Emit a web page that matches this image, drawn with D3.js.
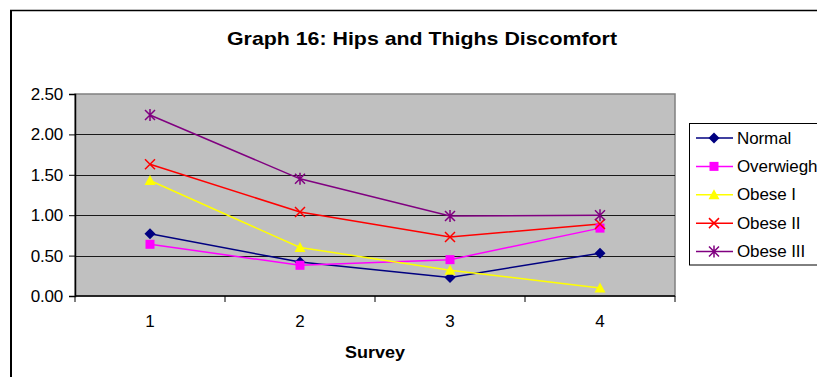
<!DOCTYPE html>
<html>
<head>
<meta charset="utf-8">
<script src="https://cdn.jsdelivr.net/npm/d3@7/dist/d3.min.js"></script>
<style>
  html, body { margin: 0; padding: 0; background: #fff; }
  svg { display: block; font-family: "Liberation Sans", Arial, sans-serif; }
</style>
</head>
<body>
<svg id="chart" width="817" height="377"></svg>
<script>
// Survey rounds and mean discomfort score per BMI group
const surveys = ["1", "2", "3", "4"];
const yTicks = [0, 0.5, 1, 1.5, 2, 2.5];
const seriesNames = ["Normal", "Overwiegh", "Obese I", "Obese II", "Obese III"];
const normal    = [0.77, 0.42, 0.23, 0.53];
const overweigh = [0.64, 0.38, 0.45, 0.84];
const obeseI    = [1.43, 0.60, 0.32, 0.10];
const obeseII   = [1.63, 1.04, 0.73, 0.89];
const obeseIII  = [2.24, 1.45, 0.99, 1.00];

const series = [
  { name: seriesNames[0], values: normal,    color: "#000080", marker: "diamond" },
  { name: seriesNames[1], values: overweigh, color: "#FF00FF", marker: "square" },
  { name: seriesNames[2], values: obeseI,    color: "#FFFF00", marker: "triangle" },
  { name: seriesNames[3], values: obeseII,   color: "#FF0000", marker: "cross" },
  { name: seriesNames[4], values: obeseIII,  color: "#800080", marker: "star" }
];

const svg = d3.select("#chart");
const plot = { left: 75, right: 675, top: 94, bottom: 296 };

const x = d3.scaleBand().domain(surveys).range([plot.left, plot.right]);
const y = d3.scaleLinear().domain([0, 2.5]).range([plot.bottom, plot.top]);
const cx = d => x(d) + x.bandwidth() / 2;

// outer frame (left and top edges)
svg.append("line").attr("x1", 11).attr("x2", 11).attr("y1", 10).attr("y2", 377)
  .attr("stroke", "#000").attr("stroke-width", 2);
svg.append("line").attr("x1", 10).attr("x2", 817).attr("y1", 10.5).attr("y2", 10.5)
  .attr("stroke", "#000").attr("stroke-width", 1.5);

// title
svg.append("text")
  .attr("x", 227).attr("y", 45)
  .attr("font-size", 19).attr("font-weight", "bold")
  .attr("textLength", 390).attr("lengthAdjust", "spacingAndGlyphs")
  .text("Graph 16: Hips and Thighs Discomfort");

// plot background
svg.append("rect")
  .attr("x", plot.left).attr("y", plot.top)
  .attr("width", plot.right - plot.left).attr("height", plot.bottom - plot.top)
  .attr("fill", "#C0C0C0").attr("stroke", "#808080").attr("stroke-width", 1.5);

// horizontal gridlines
svg.append("g").selectAll("line")
  .data(yTicks.filter(t => t > 0 && t < 2.5))
  .join("line")
  .attr("x1", plot.left).attr("x2", plot.right)
  .attr("y1", d => Math.round(y(d)) + 0.5).attr("y2", d => Math.round(y(d)) + 0.5)
  .attr("stroke", "#1a1a1a").attr("stroke-width", 1);

// y axis
const yAxis = d3.axisLeft(y).tickValues(yTicks).tickFormat(d3.format(".2f")).tickSize(6).tickPadding(6);
const gy = svg.append("g").attr("transform", `translate(${plot.left},0)`).call(yAxis);
gy.select(".domain").attr("stroke", "#000").attr("stroke-width", 1.5);
gy.selectAll(".tick line").attr("stroke", "#000");
gy.selectAll(".tick text").attr("font-size", 17).attr("letter-spacing", -0.2)
  .attr("fill", "#000").attr("font-family", "Liberation Sans, Arial, sans-serif");

// x axis with ticks between categories
const xEdge = d3.scaleLinear().domain([0, surveys.length]).range([plot.left, plot.right]);
const gx = svg.append("g").attr("transform", `translate(0,${plot.bottom})`);
gx.append("line").attr("x1", plot.left).attr("x2", plot.right).attr("y1", 0).attr("y2", 0)
  .attr("stroke", "#000").attr("stroke-width", 1.5);
gx.selectAll("line.tk").data(d3.range(surveys.length + 1)).join("line")
  .attr("class", "tk")
  .attr("x1", d => xEdge(d)).attr("x2", d => xEdge(d))
  .attr("y1", 0).attr("y2", 6).attr("stroke", "#000");
gx.selectAll("text").data(surveys).join("text")
  .attr("x", d => cx(d)).attr("y", 31)
  .attr("text-anchor", "middle").attr("font-size", 17)
  .text(d => d);

// x axis title
svg.append("text")
  .attr("x", 345).attr("y", 358)
  .attr("font-size", 17).attr("font-weight", "bold")
  .attr("textLength", 60).attr("lengthAdjust", "spacingAndGlyphs")
  .text("Survey");

// marker drawing
function drawMarker(g, type, color) {
  if (type === "diamond") {
    g.append("path").attr("d", "M0,-5.5L5.5,0L0,5.5L-5.5,0Z").attr("fill", color);
  } else if (type === "square") {
    g.append("rect").attr("x", -4.5).attr("y", -4.5).attr("width", 9).attr("height", 9).attr("fill", color);
  } else if (type === "triangle") {
    g.append("path").attr("d", "M0,-5.5L5.5,4.5L-5.5,4.5Z").attr("fill", color);
  } else if (type === "cross") {
    g.append("path").attr("d", "M-5,-5L5,5M-5,5L5,-5").attr("stroke", color).attr("stroke-width", 1.5);
  } else if (type === "star") {
    g.append("path").attr("d", "M-5,-5L5,5M-5,5L5,-5M0,-6L0,6").attr("stroke", color).attr("stroke-width", 1.5);
  }
}

const line = d3.line().x((d, i) => cx(surveys[i])).y(d => y(d));

series.forEach(s => {
  svg.append("path")
    .attr("d", line(s.values))
    .attr("fill", "none").attr("stroke", s.color).attr("stroke-width", 1.5);
});
series.forEach(s => {
  s.values.forEach((v, i) => {
    const g = svg.append("g").attr("transform", `translate(${cx(surveys[i])},${y(v)})`);
    drawMarker(g, s.marker, s.color);
  });
});

// legend
const legend = svg.append("g");
legend.append("rect")
  .attr("x", 689.5).attr("y", 123.5).attr("width", 140).attr("height", 141.5)
  .attr("fill", "#fff").attr("stroke", "#000").attr("stroke-width", 1);
const ly = d3.scalePoint().domain(seriesNames).range([138, 251.5]);
series.forEach(s => {
  const row = legend.append("g").attr("transform", `translate(0,${ly(s.name)})`);
  row.append("line").attr("x1", 696).attr("x2", 733).attr("y1", 0).attr("y2", 0)
    .attr("stroke", s.color).attr("stroke-width", 1.5);
  drawMarker(row.append("g").attr("transform", "translate(714,0)"), s.marker, s.color);
  row.append("text").attr("x", 737).attr("y", 5.5)
    .attr("font-size", 17).attr("letter-spacing", -0.1)
    .text(s.name);
});
</script>
</body>
</html>
